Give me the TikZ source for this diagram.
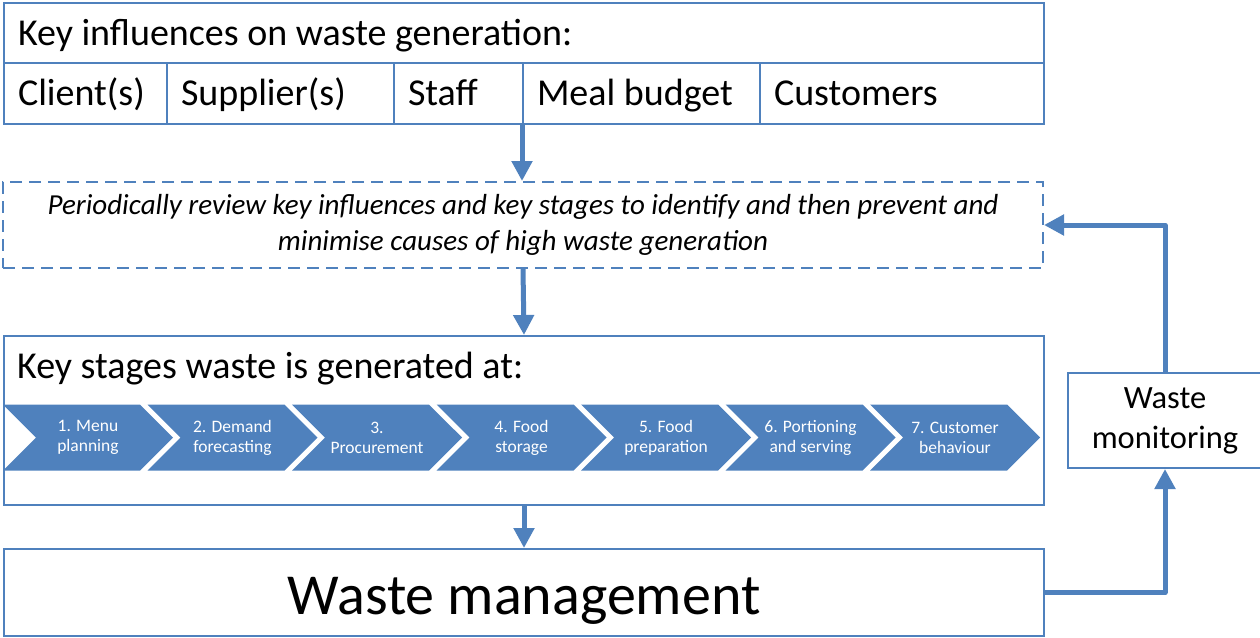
\documentclass[tikz,border=0pt]{standalone}
\usepackage{fontspec}
\setmainfont{Carlito}
\usetikzlibrary{arrows.meta,shapes.symbols}
\definecolor{ublue}{HTML}{4F81BD}
\newcommand{\fs}[2]{\fontsize{#1}{#2}\selectfont}
% left-aligned cell text of a fixed width
\newcommand{\celltext}[2]{\makebox[#1][l]{#2}}
\tikzset{
  box/.style={draw=ublue, line width=2pt, inner sep=0pt, anchor=north west},
  cell/.style={box, minimum height=61pt, inner xsep=14pt,
    text height=24pt, text depth=0pt, font=\fs{38}{45}},
  flow/.style={draw=ublue, line width=5pt, line join=round,
    -{Triangle[width=20pt,length=20pt]}},
  chev/.style={signal, signal to=east, signal from=west, signal pointer angle=90,
    fill=ublue, draw=none, text=white, align=center, inner sep=0pt,
    minimum width=170pt, minimum height=66pt, font=\fs{17.5}{20}},
}
\begin{document}
\begin{tikzpicture}[x=1pt,y=-1pt]
\useasboundingbox (0,0) rectangle (1260,637);

% influences table
\node[cell, minimum height=60pt] (infl) at (3,2)
  {\celltext{1012pt}{Key influences on waste generation:}};
\node[cell] (client) at (3,62)   {\celltext{135pt}{Client(s)}};
\node[cell] (supp)   at (166,62) {\celltext{199pt}{Supplier(s)}};
\node[cell] (staff)  at (393,62) {\celltext{101pt}{Staff}};
\node[cell] (meal)   at (522,62) {\celltext{209pt}{Meal budget}};
\node[cell] (cust)   at (759,62) {\celltext{256pt}{Customers}};

% periodic review
\node[draw=ublue, line width=2pt, dash pattern=on 12pt off 7pt,
  minimum width=1040pt, minimum height=86pt, inner sep=0pt, align=center,
  font=\fs{29}{36}\itshape] (review) at (523,225)
  {Periodically review key influences and key stages to identify and then prevent and\\
   minimise causes of high waste generation};

% key stages
\node[box, minimum width=1040pt, minimum height=169pt] (stages) at (3,335) {};
\node[anchor=base west, inner sep=0pt, font=\fs{38}{45}] (stitle) at (17,378)
  {Key stages waste is generated at:};
\foreach \i/\t in {0/{1. Menu\\planning}, 1/{2. Demand\\forecasting},
                   2/{3.\\Procurement}, 3/{4. Food\\storage},
                   4/{5. Food\\preparation}, 5/{6. Portioning\\and serving},
                   6/{7. Customer\\behaviour}}
  \node[chev] (st\i) at (3+144.5*\i+85, 437.5) {\t};

% waste management and monitoring
\node[box, minimum width=1040pt, minimum height=87pt] (wm) at (3,548) {};
\node[inner sep=0pt, text height=43pt, text depth=0pt, font=\fs{58}{66}]
  (wmtext) at (wm.center) {Waste management};
\node[box, minimum width=194pt, minimum height=95pt, align=center,
  font=\fs{32.5}{40}] (mon) at (1067,372) {Waste\\monitoring};

% flow arrows
\draw[flow] (meal.south west) -- (meal.south west |- review.north);
\draw[flow] (review.south) -- (stages.north);
\draw[flow] (stages.south) -- (wm.north);
\draw[flow] (wm.east) -| (mon.south);
\draw[flow] (mon.north) |- (review.east);
\end{tikzpicture}
\end{document}
